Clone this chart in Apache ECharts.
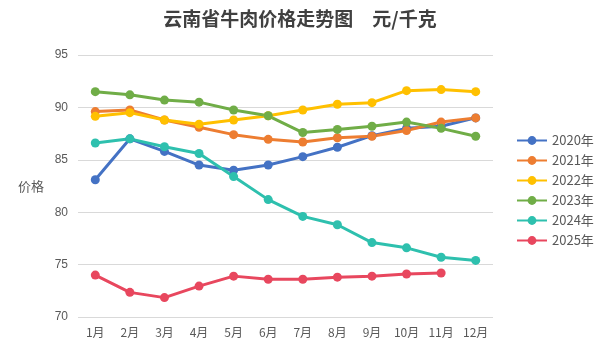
<!DOCTYPE html>
<html>
<head>
<meta charset="utf-8">
<script src="https://cdn.jsdelivr.net/npm/echarts@6/dist/echarts.min.js"></script>
<style>
  html, body { margin: 0; padding: 0; background: #fff; }
  #main { width: 600px; height: 352px; }
</style>
</head>
<body>
<div id="main"></div>
<script>
var months = ['1月', '2月', '3月', '4月', '5月', '6月', '7月', '8月', '9月', '10月', '11月', '12月'];
var years = ['2020年', '2021年', '2022年', '2023年', '2024年', '2025年'];
var colors = ['#4472C4', '#ED7D31', '#FFC000', '#70AD47', '#2EC0AE', '#E8475E'];

var y2020 = [83.1, 87.0, 85.8, 84.5, 84.0, 84.5, 85.3, 86.2, 87.3, 88.0, 88.2, 89.0];
var y2021 = [89.6, 89.75, 88.8, 88.1, 87.4, 86.95, 86.7, 87.1, 87.25, 87.8, 88.6, 89.0];
var y2022 = [89.15, 89.5, 88.8, 88.4, 88.8, 89.2, 89.75, 90.3, 90.45, 91.6, 91.7, 91.5];
var y2023 = [91.5, 91.2, 90.7, 90.5, 89.75, 89.2, 87.6, 87.9, 88.2, 88.6, 88.0, 87.25];
var y2024 = [86.6, 87.0, 86.25, 85.6, 83.4, 81.2, 79.6, 78.8, 77.1, 76.6, 75.7, 75.4];
var y2025 = [74.0, 72.35, 71.85, 72.95, 73.9, 73.6, 73.6, 73.8, 73.9, 74.1, 74.2];

var allData = [y2020, y2021, y2022, y2023, y2024, y2025];

var myChart = echarts.init(document.getElementById('main'));

var series = years.map(function (name, i) {
  return {
    name: name,
    type: 'line',
    data: allData[i],
    symbol: 'circle',
    symbolSize: 9,
    lineStyle: { width: 3, color: colors[i] },
    itemStyle: { color: colors[i] }
  };
});

var option = {
  animation: false,
  color: colors,
  title: {
    text: '云南省牛肉价格走势图　元/千克',
    left: 'center',
    top: 4,
    textStyle: {
      fontFamily: 'Noto Sans CJK SC',
      fontSize: 19,
      fontWeight: 'bold',
      color: '#404040'
    }
  },
  legend: {
    orient: 'vertical',
    left: 511,
    top: 129,
    itemGap: 7,
    itemWidth: 30,
    itemHeight: 11,
    textStyle: { color: '#595959', fontSize: 13, fontFamily: 'Noto Sans CJK SC' },
    data: years
  },
  grid: { left: 78, right: 107, top: 55, bottom: 35 },
  xAxis: {
    type: 'category',
    data: months,
    boundaryGap: true,
    axisLine: { show: false },
    axisTick: { show: false },
    axisLabel: { color: '#595959', fontSize: 12, margin: 9, fontFamily: 'Noto Sans CJK SC' }
  },
  yAxis: {
    type: 'value',
    min: 70,
    max: 95,
    interval: 5,
    name: '价格',
    nameLocation: 'middle',
    nameRotate: 0,
    nameGap: 34,
    nameTextStyle: { color: '#595959', fontSize: 13, fontFamily: 'Noto Sans CJK SC', padding: [0, 0, 6, 0] },
    axisLine: { show: false },
    axisTick: { show: false },
    axisLabel: { color: '#595959', fontSize: 12, margin: 10 },
    splitLine: { lineStyle: { color: '#D9D9D9', width: 1 } }
  },
  series: series
};

myChart.setOption(option);
</script>
</body>
</html>
